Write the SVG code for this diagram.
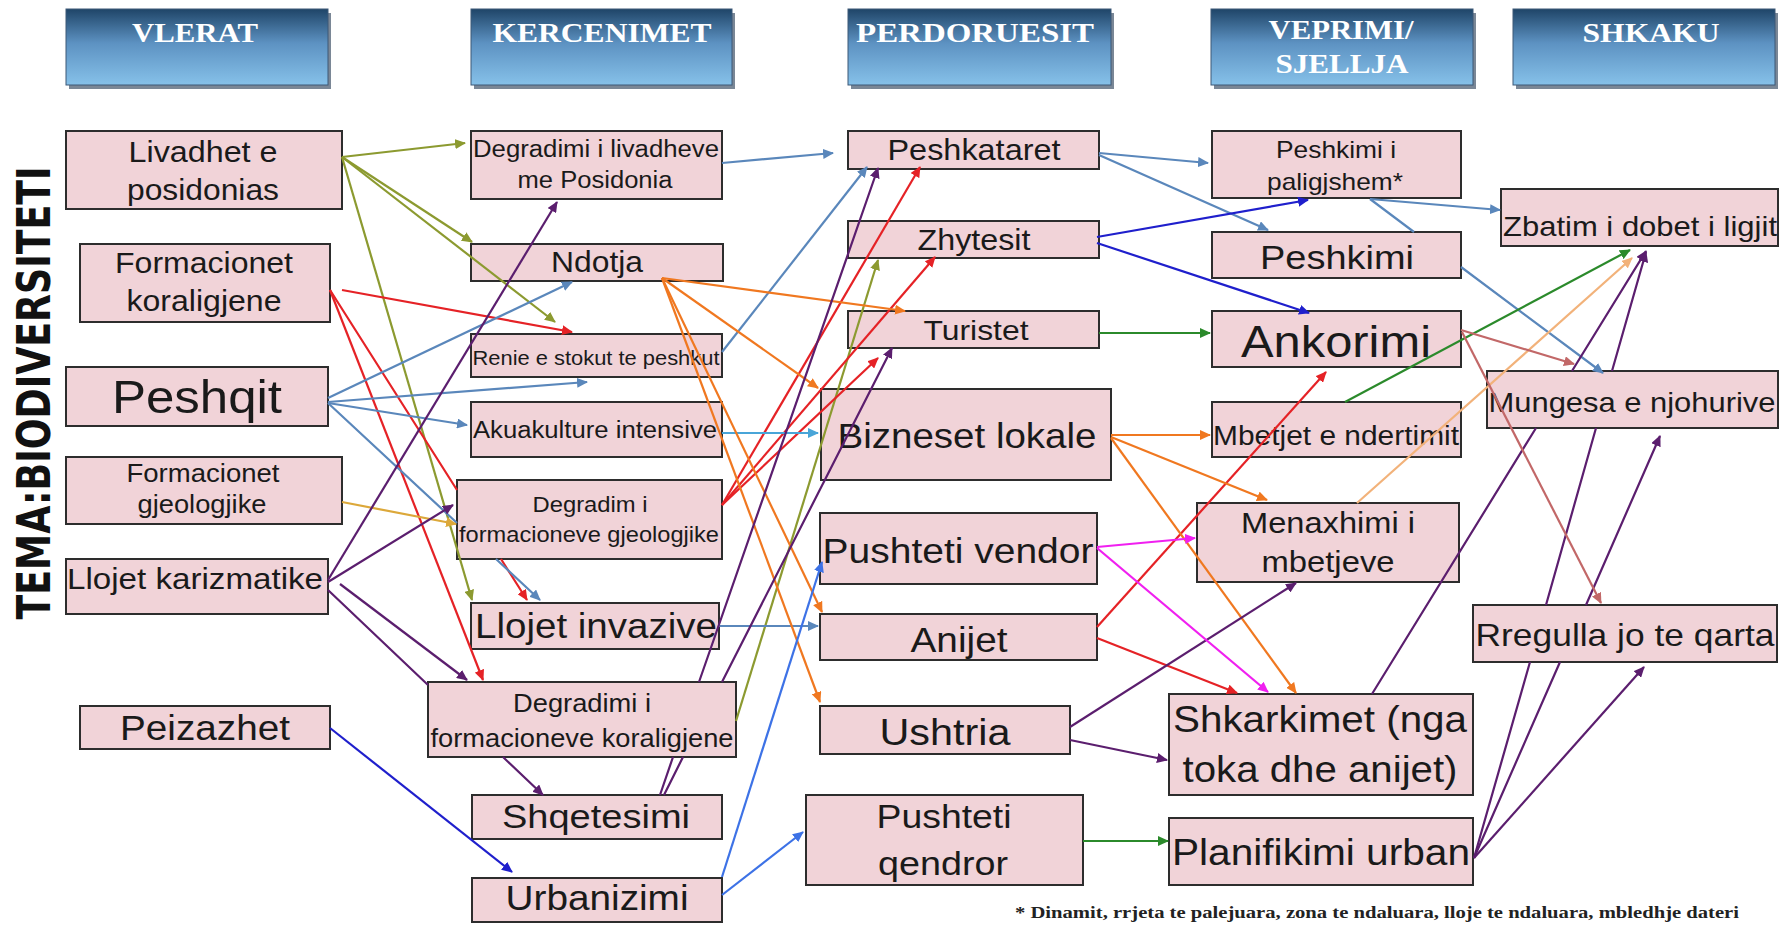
<svg xmlns="http://www.w3.org/2000/svg" width="1790" height="926" viewBox="0 0 1790 926">
<defs>
<linearGradient id="hg" x1="0" y1="0" x2="0" y2="1">
<stop offset="0" stop-color="#1f4568"/>
<stop offset="0.45" stop-color="#5d92c2"/>
<stop offset="1" stop-color="#86c1e9"/>
</linearGradient>
<marker id="m-olive" markerUnits="userSpaceOnUse" markerWidth="12" markerHeight="10" refX="10" refY="5" orient="auto"><path d="M0,0 L11,5 L0,10 z" fill="#8c9a30"/></marker>
<marker id="m-red" markerUnits="userSpaceOnUse" markerWidth="12" markerHeight="10" refX="10" refY="5" orient="auto"><path d="M0,0 L11,5 L0,10 z" fill="#e52226"/></marker>
<marker id="m-steel" markerUnits="userSpaceOnUse" markerWidth="12" markerHeight="10" refX="10" refY="5" orient="auto"><path d="M0,0 L11,5 L0,10 z" fill="#5a87bb"/></marker>
<marker id="m-cyan" markerUnits="userSpaceOnUse" markerWidth="12" markerHeight="10" refX="10" refY="5" orient="auto"><path d="M0,0 L11,5 L0,10 z" fill="#49a5d8"/></marker>
<marker id="m-orange" markerUnits="userSpaceOnUse" markerWidth="12" markerHeight="10" refX="10" refY="5" orient="auto"><path d="M0,0 L11,5 L0,10 z" fill="#f07820"/></marker>
<marker id="m-tan" markerUnits="userSpaceOnUse" markerWidth="12" markerHeight="10" refX="10" refY="5" orient="auto"><path d="M0,0 L11,5 L0,10 z" fill="#dca83a"/></marker>
<marker id="m-ltan" markerUnits="userSpaceOnUse" markerWidth="12" markerHeight="10" refX="10" refY="5" orient="auto"><path d="M0,0 L11,5 L0,10 z" fill="#f2b27a"/></marker>
<marker id="m-purple" markerUnits="userSpaceOnUse" markerWidth="12" markerHeight="10" refX="10" refY="5" orient="auto"><path d="M0,0 L11,5 L0,10 z" fill="#5b1e6e"/></marker>
<marker id="m-blue" markerUnits="userSpaceOnUse" markerWidth="12" markerHeight="10" refX="10" refY="5" orient="auto"><path d="M0,0 L11,5 L0,10 z" fill="#1f1fcc"/></marker>
<marker id="m-corn" markerUnits="userSpaceOnUse" markerWidth="12" markerHeight="10" refX="10" refY="5" orient="auto"><path d="M0,0 L11,5 L0,10 z" fill="#3d72e6"/></marker>
<marker id="m-green" markerUnits="userSpaceOnUse" markerWidth="12" markerHeight="10" refX="10" refY="5" orient="auto"><path d="M0,0 L11,5 L0,10 z" fill="#2b8a2b"/></marker>
<marker id="m-magenta" markerUnits="userSpaceOnUse" markerWidth="12" markerHeight="10" refX="10" refY="5" orient="auto"><path d="M0,0 L11,5 L0,10 z" fill="#f020f0"/></marker>
<marker id="m-rose" markerUnits="userSpaceOnUse" markerWidth="12" markerHeight="10" refX="10" refY="5" orient="auto"><path d="M0,0 L11,5 L0,10 z" fill="#c26868"/></marker>
</defs>
<style>
.hdr .sh{fill:#7a8796}
.hdr .bx{fill:url(#hg);stroke:#3c5877;stroke-width:1}
.hdr text{font-family:"Liberation Serif","Times New Roman",serif;font-weight:bold;font-size:28px;fill:#ffffff;text-anchor:middle}
.node rect{fill:#f1d3d8;stroke:#2d2d2d;stroke-width:2}
.node text{font-family:"Liberation Sans",Arial,sans-serif;fill:#1a1a1a;text-anchor:middle}
.edges path{fill:none;stroke-width:2.2}
.olive{stroke:#8c9a30;marker-end:url(#m-olive)}
.red{stroke:#e52226;marker-end:url(#m-red)}
.steel{stroke:#5a87bb;marker-end:url(#m-steel)}
.cyan{stroke:#49a5d8;marker-end:url(#m-cyan)}
.orange{stroke:#f07820;marker-end:url(#m-orange)}
.tan{stroke:#dca83a;marker-end:url(#m-tan)}
.ltan{stroke:#f2b27a;marker-end:url(#m-ltan)}
.purple{stroke:#5b1e6e;marker-end:url(#m-purple)}
.blue{stroke:#1f1fcc;marker-end:url(#m-blue)}
.corn{stroke:#3d72e6;marker-end:url(#m-corn)}
.green{stroke:#2b8a2b;marker-end:url(#m-green)}
.magenta{stroke:#f020f0;marker-end:url(#m-magenta)}
.rose{stroke:#c26868;marker-end:url(#m-rose)}
</style>
<rect width="1790" height="926" fill="#ffffff"/>

<g id="headers">
<g id="h-vlerat" class="hdr"><rect class="sh" x="69" y="13" width="262" height="76"/><rect class="bx" x="66" y="9" width="262" height="76"/><text x="195" y="42" textLength="126" lengthAdjust="spacingAndGlyphs">VLERAT</text></g>
<g id="h-kercenimet" class="hdr"><rect class="sh" x="474" y="13" width="261" height="76"/><rect class="bx" x="471" y="9" width="261" height="76"/><text x="602" y="42" textLength="219" lengthAdjust="spacingAndGlyphs">KERCENIMET</text></g>
<g id="h-perdoruesit" class="hdr"><rect class="sh" x="851" y="13" width="263" height="76"/><rect class="bx" x="848" y="9" width="263" height="76"/><text x="975" y="42" textLength="238" lengthAdjust="spacingAndGlyphs">PERDORUESIT</text></g>
<g id="h-veprimi" class="hdr"><rect class="sh" x="1214" y="13" width="262" height="76"/><rect class="bx" x="1211" y="9" width="262" height="76"/><text x="1341" y="39" textLength="145" lengthAdjust="spacingAndGlyphs">VEPRIMI/</text><text x="1342" y="73" textLength="133" lengthAdjust="spacingAndGlyphs">SJELLJA</text></g>
<g id="h-shkaku" class="hdr"><rect class="sh" x="1516" y="13" width="262" height="76"/><rect class="bx" x="1513" y="9" width="262" height="76"/><text x="1651" y="42" textLength="137" lengthAdjust="spacingAndGlyphs">SHKAKU</text></g>
</g>

<text id="tema" transform="translate(50,393) rotate(-90)" font-family="'DejaVu Sans',Verdana,sans-serif" font-weight="bold" font-size="47" fill="#111111" text-anchor="middle" textLength="453" lengthAdjust="spacingAndGlyphs">TEMA:BIODIVERSITETI</text>

<g id="n-livadhet" class="node"><rect x="66" y="131" width="276" height="78"/><text x="203" y="162" font-size="29" textLength="149" lengthAdjust="spacingAndGlyphs">Livadhet e</text><text x="203" y="200" font-size="29" textLength="152" lengthAdjust="spacingAndGlyphs">posidonias</text></g>
<g id="n-formkoral" class="node"><rect x="80" y="244" width="250" height="78"/><text x="204" y="273" font-size="29" textLength="178" lengthAdjust="spacingAndGlyphs">Formacionet</text><text x="204" y="311" font-size="29" textLength="155" lengthAdjust="spacingAndGlyphs">koraligjene</text></g>
<g id="n-peshqit" class="node"><rect x="66" y="367" width="262" height="59"/><text x="197" y="413" font-size="46" textLength="170" lengthAdjust="spacingAndGlyphs">Peshqit</text></g>
<g id="n-formgjeo" class="node"><rect x="66" y="457" width="276" height="67"/><text x="203" y="482" font-size="25" textLength="153" lengthAdjust="spacingAndGlyphs">Formacionet</text><text x="202" y="513" font-size="25" textLength="129" lengthAdjust="spacingAndGlyphs">gjeologjike</text></g>
<g id="n-llojetkar" class="node"><rect x="66" y="559" width="262" height="55"/><text x="195" y="589" font-size="30" textLength="256" lengthAdjust="spacingAndGlyphs">Llojet karizmatike</text></g>
<g id="n-peizazhet" class="node"><rect x="80" y="706" width="250" height="43"/><text x="205" y="740" font-size="35" textLength="170" lengthAdjust="spacingAndGlyphs">Peizazhet</text></g>

<g id="n-deglivadh" class="node"><rect x="471" y="131" width="251" height="68"/><text x="596" y="157" font-size="23" textLength="246" lengthAdjust="spacingAndGlyphs">Degradimi i livadheve</text><text x="595" y="188" font-size="23" textLength="155" lengthAdjust="spacingAndGlyphs">me Posidonia</text></g>
<g id="n-ndotja" class="node"><rect x="471" y="244" width="252" height="37"/><text x="597" y="272" font-size="29" textLength="92" lengthAdjust="spacingAndGlyphs">Ndotja</text></g>
<g id="n-renie" class="node"><rect x="471" y="334" width="251" height="43"/><text x="596" y="365" font-size="20" textLength="247" lengthAdjust="spacingAndGlyphs">Renie e stokut te peshkut</text></g>
<g id="n-akua" class="node"><rect x="471" y="402" width="251" height="55"/><text x="595" y="438" font-size="23" textLength="244" lengthAdjust="spacingAndGlyphs">Akuakulture intensive</text></g>
<g id="n-deggjeo" class="node"><rect x="457" y="480" width="265" height="79"/><text x="590" y="512" font-size="21.5" textLength="115" lengthAdjust="spacingAndGlyphs">Degradim i</text><text x="589" y="542" font-size="21.5" textLength="260" lengthAdjust="spacingAndGlyphs">formacioneve gjeologjike</text></g>
<g id="n-invazive" class="node"><rect x="471" y="603" width="248" height="46"/><text x="596" y="638" font-size="35" textLength="242" lengthAdjust="spacingAndGlyphs">Llojet invazive</text></g>
<g id="n-degkoral" class="node"><rect x="428" y="682" width="308" height="75"/><text x="582" y="712" font-size="25" textLength="138" lengthAdjust="spacingAndGlyphs">Degradimi i</text><text x="582" y="747" font-size="25" textLength="303" lengthAdjust="spacingAndGlyphs">formacioneve koraligjene</text></g>
<g id="n-shqetesimi" class="node"><rect x="472" y="795" width="250" height="44"/><text x="596" y="828" font-size="34" textLength="188" lengthAdjust="spacingAndGlyphs">Shqetesimi</text></g>
<g id="n-urbanizimi" class="node"><rect x="472" y="878" width="250" height="44"/><text x="597" y="910" font-size="35" textLength="183" lengthAdjust="spacingAndGlyphs">Urbanizimi</text></g>

<g id="n-peshkataret" class="node"><rect x="848" y="131" width="251" height="38"/><text x="974" y="160" font-size="29" textLength="173" lengthAdjust="spacingAndGlyphs">Peshkataret</text></g>
<g id="n-zhytesit" class="node"><rect x="848" y="221" width="251" height="37"/><text x="974" y="250" font-size="29" textLength="113" lengthAdjust="spacingAndGlyphs">Zhytesit</text></g>
<g id="n-turistet" class="node"><rect x="848" y="311" width="251" height="37"/><text x="976" y="340" font-size="28.5" textLength="105" lengthAdjust="spacingAndGlyphs">Turistet</text></g>
<g id="n-bizneset" class="node"><rect x="821" y="389" width="290" height="91"/><text x="967" y="448" font-size="35" textLength="259" lengthAdjust="spacingAndGlyphs">Bizneset lokale</text></g>
<g id="n-pushvendor" class="node"><rect x="820" y="513" width="277" height="71"/><text x="958" y="563" font-size="35" textLength="271" lengthAdjust="spacingAndGlyphs">Pushteti vendor</text></g>
<g id="n-anijet" class="node"><rect x="820" y="614" width="277" height="46"/><text x="959" y="652" font-size="35" textLength="97" lengthAdjust="spacingAndGlyphs">Anijet</text></g>
<g id="n-ushtria" class="node"><rect x="820" y="706" width="250" height="48"/><text x="945" y="745" font-size="37" textLength="131" lengthAdjust="spacingAndGlyphs">Ushtria</text></g>
<g id="n-pushqendror" class="node"><rect x="806" y="795" width="277" height="90"/><text x="944" y="828" font-size="34" textLength="135" lengthAdjust="spacingAndGlyphs">Pushteti</text><text x="943" y="875" font-size="34" textLength="130" lengthAdjust="spacingAndGlyphs">qendror</text></g>

<g id="n-paligjshem" class="node"><rect x="1212" y="131" width="249" height="67"/><text x="1336" y="158" font-size="24" textLength="120" lengthAdjust="spacingAndGlyphs">Peshkimi i</text><text x="1335" y="190" font-size="24" textLength="136" lengthAdjust="spacingAndGlyphs">paligjshem*</text></g>
<g id="n-peshkimi" class="node"><rect x="1212" y="232" width="249" height="46"/><text x="1337" y="269" font-size="34" textLength="154" lengthAdjust="spacingAndGlyphs">Peshkimi</text></g>
<g id="n-ankorimi" class="node"><rect x="1212" y="311" width="249" height="56"/><text x="1336" y="357" font-size="44" textLength="190" lengthAdjust="spacingAndGlyphs">Ankorimi</text></g>
<g id="n-mbetjet" class="node"><rect x="1212" y="402" width="249" height="55"/><text x="1336" y="445" font-size="27" textLength="246" lengthAdjust="spacingAndGlyphs">Mbetjet e ndertimit</text></g>
<g id="n-menaxhimi" class="node"><rect x="1197" y="503" width="262" height="79"/><text x="1328" y="533" font-size="29.5" textLength="174" lengthAdjust="spacingAndGlyphs">Menaxhimi i</text><text x="1328" y="572" font-size="29.5" textLength="133" lengthAdjust="spacingAndGlyphs">mbetjeve</text></g>
<g id="n-shkarkimet" class="node"><rect x="1169" y="694" width="304" height="101"/><text x="1320" y="732" font-size="36" textLength="294" lengthAdjust="spacingAndGlyphs">Shkarkimet (nga</text><text x="1320" y="782" font-size="36" textLength="275" lengthAdjust="spacingAndGlyphs">toka dhe anijet)</text></g>
<g id="n-planifikimi" class="node"><rect x="1169" y="818" width="304" height="67"/><text x="1321" y="865" font-size="36.5" textLength="298" lengthAdjust="spacingAndGlyphs">Planifikimi urban</text></g>

<g id="n-zbatim" class="node"><rect x="1501" y="189" width="277" height="57"/><text x="1640" y="236" font-size="28" textLength="274" lengthAdjust="spacingAndGlyphs">Zbatim i dobet i ligjit</text></g>
<g id="n-mungesa" class="node"><rect x="1487" y="371" width="291" height="57"/><text x="1632" y="412" font-size="28" textLength="287" lengthAdjust="spacingAndGlyphs">Mungesa e njohurive</text></g>
<g id="n-rregulla" class="node"><rect x="1473" y="605" width="304" height="57"/><text x="1625" y="646" font-size="32" textLength="299" lengthAdjust="spacingAndGlyphs">Rregulla jo te qarta</text></g>

<g id="connectors" class="edges">
<path class="olive" d="M342,157 L465,143"/>
<path class="olive" d="M342,157 L472,242"/>
<path class="olive" d="M342,157 L555,322"/>
<path class="olive" d="M342,157 L472,600"/>
<path class="olive" d="M736,721 L878,260"/>
<path class="red" d="M342,290 L572,332"/>
<path class="red" d="M330,290 L457,490 M501,559 L527,600"/>
<path class="red" d="M330,290 L483,680"/>
<path class="red" d="M722,505 L920,167"/>
<path class="red" d="M722,505 L935,257"/>
<path class="red" d="M722,505 L878,358"/>
<path class="red" d="M1097,627 L1326,372"/>
<path class="red" d="M1097,638 L1237,693"/>
<path class="steel" d="M328,398 L572,282"/>
<path class="steel" d="M328,402 L587,382"/>
<path class="steel" d="M328,403 L467,425"/>
<path class="steel" d="M328,403 L457,523 M496,559 L540,600"/>
<path class="steel" d="M722,163 L833,153"/>
<path class="steel" d="M722,352 L867,167"/>
<path class="steel" d="M719,626 L818,626"/>
<path class="steel" d="M1099,153 L1208,163"/>
<path class="steel" d="M1099,155 L1268,230"/>
<path class="steel" d="M1370,199 L1500,210"/>
<path class="steel" d="M1370,199 L1414,232 M1461,267 L1603,373"/>
<path class="cyan" d="M722,433 L818,433"/>
<path class="orange" d="M662,278 L905,311"/>
<path class="orange" d="M662,278 L818,388"/>
<path class="orange" d="M662,278 L822,612"/>
<path class="orange" d="M662,278 L820,702"/>
<path class="orange" d="M1111,435 L1210,435"/>
<path class="orange" d="M1111,437 L1267,500"/>
<path class="orange" d="M1111,438 L1296,693"/>
<path class="tan" d="M342,502 L456,524"/>
<path class="ltan" d="M1357,503 L1632,258"/>
<path class="purple" d="M328,580 L557,202"/>
<path class="purple" d="M328,582 L453,505"/>
<path class="purple" d="M340,584 L467,680"/>
<path class="purple" d="M328,590 L428,685 M503,757 L543,795"/>
<path class="purple" d="M660,795 L673,757 M699,682 L878,168"/>
<path class="purple" d="M664,795 L683,757 M722,682 L892,348"/>
<path class="purple" d="M1070,727 L1296,583"/>
<path class="purple" d="M1070,740 L1167,760"/>
<path class="purple" d="M1372,694 L1536,428 M1572,371 L1646,251"/>
<path class="purple" d="M1474,858 L1530,662 M1546,605 L1596,428 M1612,371 L1646,252"/>
<path class="purple" d="M1474,858 L1560,662 M1586,605 L1660,436"/>
<path class="purple" d="M1474,858 L1644,667"/>
<path class="blue" d="M330,728 L512,872"/>
<path class="blue" d="M1097,237 L1308,200"/>
<path class="blue" d="M1097,243 L1309,313"/>
<path class="corn" d="M722,877 L822,562"/>
<path class="corn" d="M722,895 L803,832"/>
<path class="green" d="M1099,333 L1210,333"/>
<path class="green" d="M1083,841 L1168,841"/>
<path class="green" d="M1345,402 L1630,250"/>
<path class="magenta" d="M1097,547 L1195,538"/>
<path class="magenta" d="M1097,548 L1268,692"/>
<path class="rose" d="M1461,330 L1574,364"/>
<path class="rose" d="M1462,332 L1601,603"/>
</g>

<text id="footnote" x="1015" y="918" font-family="'Liberation Serif','Times New Roman',serif" font-weight="bold" font-size="16" fill="#222222" textLength="724" lengthAdjust="spacingAndGlyphs">* Dinamit, rrjeta te palejuara, zona te ndaluara, lloje te ndaluara, mbledhje dateri</text>
</svg>
